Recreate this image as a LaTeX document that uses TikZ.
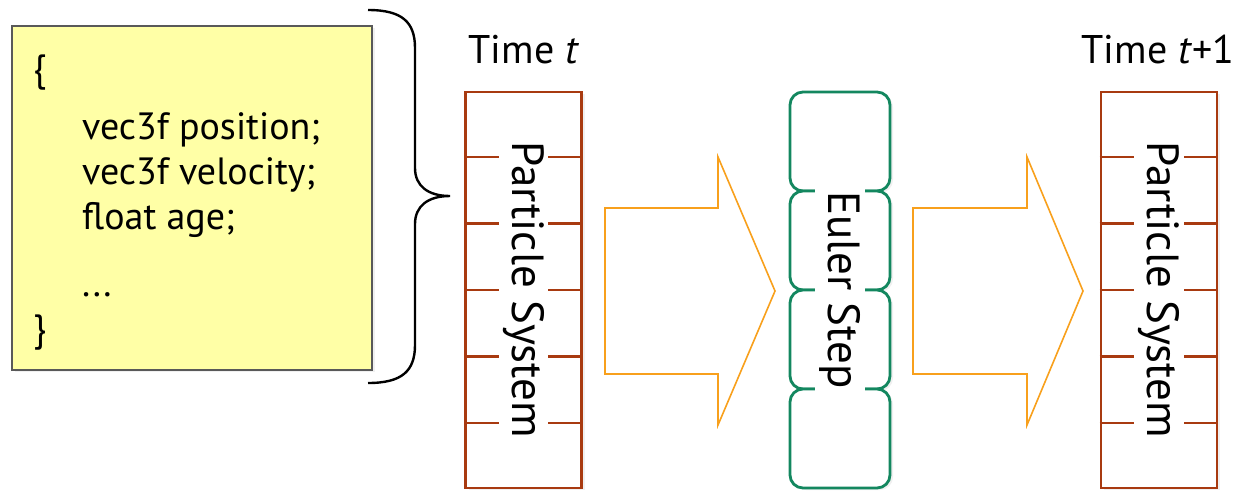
\documentclass[tikz,border=0pt]{standalone}
\usepackage{fontspec}
\setmainfont{PT Sans}
\usepackage{tikz}
\usetikzlibrary{calc,positioning,shadows}
\definecolor{rustred}{HTML}{A83A10}
\definecolor{eulergreen}{HTML}{13875F}
\definecolor{flowamber}{HTML}{F8A01C}
\definecolor{notepad}{HTML}{FFFFA6}
\newcommand{\timefont}{\fontsize{40}{44}\selectfont}
\newcommand{\blockarrow}[2]{%
    \draw[flowarrow,shift={(#1,0)}] (0,208) -- (#2,208) -- (#2,157) -- (170,291) -- (#2,425) -- (#2,374) -- (0,374) -- cycle;%
  }

\begin{document}
\begin{tikzpicture}[x=1pt,y=-1pt,
    softshadow/.style={drop shadow={opacity=0.12,shadow xshift=3pt,shadow yshift=-2pt}},
    column/.style={draw=rustred,line width=2.8pt,minimum width=116pt,minimum height=396pt,inner sep=0pt,fill=white,softshadow},
    divider/.style={rustred,line width=2.8pt},
    eulerbox/.style={draw=eulergreen,line width=2.8pt,rounded corners=13pt,minimum width=100pt,minimum height=99pt,inner sep=0pt,fill=white,softshadow},
    flowarrow/.style={flowamber,line width=1.6pt,line join=miter},
    vlabel/.style={rotate=-90,fill=white,inner sep=4pt,font=\fontsize{45}{50}\selectfont}]
    \useasboundingbox (0,0) rectangle (1233,491);
    \node[draw=gray!70!black,line width=1.1pt,fill=notepad,minimum width=360pt,minimum height=344pt,softshadow] (note) at (192,198) {};
    \node[anchor=north west,align=left,inner sep=0pt,font=\fontsize{38}{45}\selectfont] (code) at (33,55)
      {\{\\[13pt]\hspace*{49pt}vec3f position;\\\hspace*{49pt}vec3f velocity;\\\hspace*{49pt}float age;\\[22pt]\hspace*{49pt}...\\[0pt]\}};
    \draw[line width=2.4pt] (368,10) .. controls (402,10) and (415,22) .. (415,48) -- (415,168)
      .. controls (415,186) and (428,196) .. (450,196) coordinate (bracetip)
      .. controls (428,196) and (415,206) .. (415,224) -- (415,345) .. controls (415,371) and (402,383) .. (368,383);
    \node[column] (stateA) at (523.5,290) {};
    \foreach \k in {1,...,5}
        \draw[divider] ($(stateA.north west)!\k/6!(stateA.south west)$) -- ($(stateA.north east)!\k/6!(stateA.south east)$);
    \node[vlabel] (psA) at (stateA) {Particle System};
    \node[anchor=base,font=\timefont] (timeA) at (524,63) {Time \textit{t}};
    \blockarrow{605}{113}
    \foreach \k in {1,...,4}
        \node[eulerbox] (step\k) at (840,{92+99*\k-49.5}) {};
    \node[vlabel] (euler) at (840,290) {Euler Step};
    \blockarrow{913}{114}
    \node[column] (stateB) at (1159,290) {};
    \foreach \k in {1,...,5}
        \draw[divider] ($(stateB.north west)!\k/6!(stateB.south west)$) -- ($(stateB.north east)!\k/6!(stateB.south east)$);
    \node[vlabel] (psB) at (stateB) {Particle System};
    \node[anchor=base,font=\timefont] (timeB) at (1158,63) {Time \textit{t}+1};
  \end{tikzpicture}
\end{document}
